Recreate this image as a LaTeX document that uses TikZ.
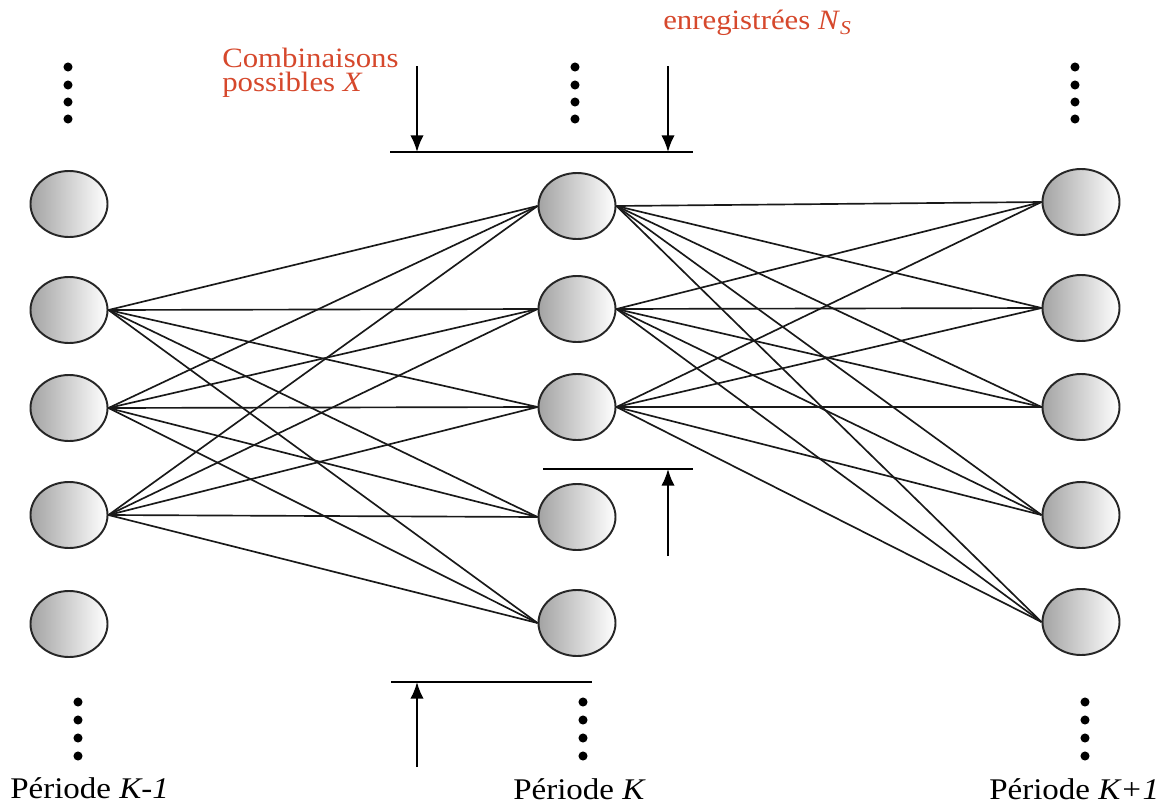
\documentclass[tikz,border=0pt]{standalone}
\usepackage{fontspec}
\setmainfont{Liberation Serif}[FakeStretch=1.1]
\usetikzlibrary{arrows.meta,shapes.geometric}
\definecolor{labelred}{RGB}{214,72,44}
\begin{document}
\begin{tikzpicture}[x=0.75pt,y=-0.75pt,
  state/.style={ellipse, draw=black!85, line width=1.45pt, inner sep=0pt,
    minimum width=57.75pt, minimum height=49.5pt,
    left color=black!36, right color=white},
  link/.style={line width=1.25pt, black!90},
  bar/.style={line width=1.35pt, black},
  pointer/.style={line width=1.45pt, black, -{Latex[length=12.5pt,width=10pt]}},
  vdot/.style={fill=black},
  caption/.style={font=\fontsize{22.5}{27}\selectfont, anchor=base west, inner sep=0pt},
  redlabel/.style={font=\fontsize{21}{18}\selectfont, text=labelred, inner sep=0pt}
]
\useasboundingbox (0,0) rectangle (1168,810);
\fill[white] (0,0) rectangle (1168,810);

% period K-1
\node[state] (L1) at (69,204) {};
\node[state] (L2) at (69,310) {};
\node[state] (L3) at (69,408) {};
\node[state] (L4) at (69,515) {};
\node[state] (L5) at (69,624) {};
% period K
\node[state] (M1) at (577,206) {};
\node[state] (M2) at (577,309) {};
\node[state] (M3) at (577,407) {};
\node[state] (M4) at (577,517) {};
\node[state] (M5) at (577,623) {};
% period K+1
\node[state] (R1) at (1081,202) {};
\node[state] (R2) at (1081,308) {};
\node[state] (R3) at (1081,407) {};
\node[state] (R4) at (1081,515) {};
\node[state] (R5) at (1081,622) {};

% transitions K-1 -> K
\foreach \l in {2,3,4}{
  \foreach \m in {1,...,5}{
    \draw[link] (L\l.east) -- (M\m.west);
  }
}
% transitions K -> K+1
\foreach \m in {1,2,3}{
  \foreach \r in {1,...,5}{
    \draw[link] (M\m.east) -- (R\r.west);
  }
}

% vertical ellipsis dots
\foreach \x in {68,575,1075}{
  \foreach \y in {67,85,102,119}{
    \fill[vdot] (\x,\y) circle[radius=3.4pt];
  }
}
\foreach \x in {78,583,1085}{
  \foreach \y in {702,720,738,756}{
    \fill[vdot] (\x,\y) circle[radius=3.4pt];
  }
}

% upper bound of the stored combinations
\coordinate (topbarW) at (390,152);
\coordinate (topbarE) at (693,152);
\coordinate (topArrX) at (417,152);
\coordinate (topArrN) at (668,152);
\coordinate (topSrcX) at (417,66);
\coordinate (topSrcN) at (668,66);
\draw[bar] (topbarW) -- (topbarE);
\draw[pointer] (topSrcX) -- (topArrX);
\draw[pointer] (topSrcN) -- (topArrN);

% lower bound of the stored combinations
\coordinate (midbarW) at (543,469);
\coordinate (midbarE) at (693,469);
\coordinate (midArr) at (668,469);
\coordinate (midSrc) at (668,556);
\draw[bar] (midbarW) -- (midbarE);
\draw[pointer] (midSrc) -- (midArr);

% lower bound of the possible combinations
\coordinate (lowbarW) at (391,682);
\coordinate (lowbarE) at (592,682);
\coordinate (lowArr) at (417,682);
\coordinate (lowSrc) at (417,767);
\draw[bar] (lowbarW) -- (lowbarE);
\draw[pointer] (lowSrc) -- (lowArr);

% labels
\node[redlabel, align=left, anchor=north west] (comb) at (222,48)
  {Combinaisons\\possibles \textit{X}};
\node[redlabel, anchor=base west] (stored) at (663,30)
  {enregistrées \textit{N}\textsubscript{\textit{S}}};

\node[caption] (perA) at (10,798) {Période \textit{K-1}};
\node[caption] (perB) at (513,799) {Période \textit{K}};
\node[caption] (perC) at (989,799) {Période \textit{K+1}};
\end{tikzpicture}
\end{document}
